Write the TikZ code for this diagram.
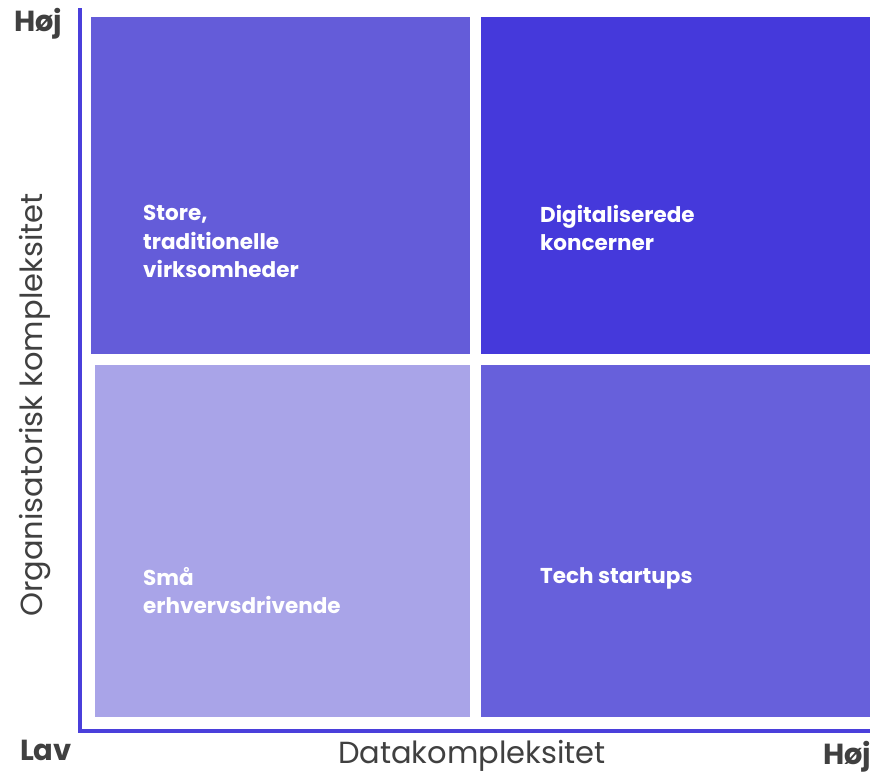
\documentclass[tikz,border=0pt]{standalone}
\usepackage{fontspec}
\setmainfont{Poppins}
\definecolor{axis}{HTML}{4A3FDB}
\definecolor{boxmid}{HTML}{645CD9}
\definecolor{boxdark}{HTML}{4539DB}
\definecolor{boxlight}{HTML}{A9A4E8}
\definecolor{boxbr}{HTML}{6760DB}
\definecolor{lbl}{HTML}{404040}
\tikzset{
  qtext/.style={anchor=north west, inner sep=0pt, align=left, text=white,
    font=\fontsize{21.5}{28.5}\selectfont\bfseries},
  endlbl/.style={inner sep=0pt, text=lbl, font=\fontsize{29}{32}\selectfont\bfseries},
  axlbl/.style={inner sep=0pt, text=lbl, font=\fontsize{30.5}{34}\selectfont},
}
\begin{document}
\begin{tikzpicture}[x=1pt,y=-1pt]
\useasboundingbox (0,0) rectangle (870,777);
\fill[white] (0,0) rectangle (870,777);
\fill[boxmid] (91,17) rectangle (470,354);
\fill[boxdark] (481,17) rectangle (870,354);
\fill[boxlight] (95,365) rectangle (470,717);
\fill[boxbr] (481,365) rectangle (870,717);
\coordinate (top) at (80,8);
\coordinate (origin) at (80,731);
\coordinate (right) at (870,731);
\draw[axis, line width=3.5pt] (top) -- (origin) -- (right);
\node[qtext] (tl) at (143,205) {Store,\\traditionelle\\virksomheder};
\node[qtext] (tr) at (540,205) {Digitaliserede\\koncerner};
\node[qtext] (bl) at (143,567) {Små\\erhvervsdrivende};
\node[qtext] (br) at (540,567) {Tech startups};
\node[endlbl] (yhigh) at (38,24) {Høj};
\node[endlbl] (ylow) at (46,750) {Lav};
\node[endlbl] (xhigh) at (847,757) {Høj};
\node[axlbl] (xlab) at (472,756) {Datakompleksitet};
\node[axlbl, rotate=90] (ylab) at (35,405) {Organisatorisk kompleksitet};
\end{tikzpicture}
\end{document}
